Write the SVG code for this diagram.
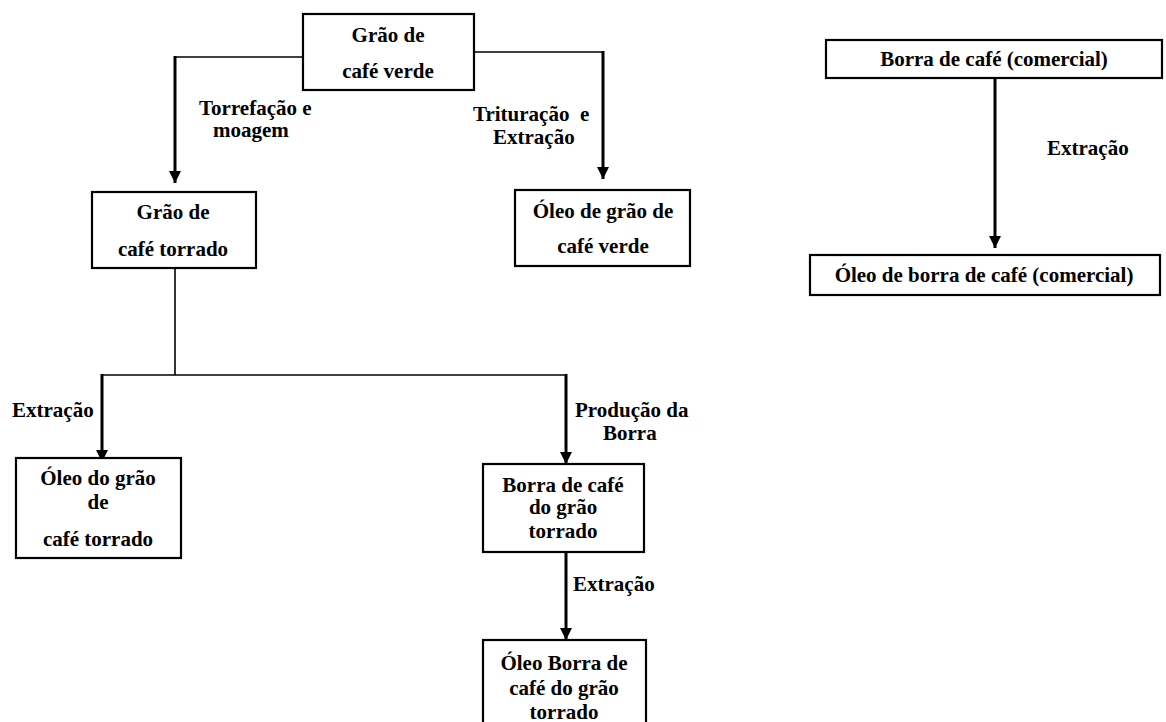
<svg xmlns="http://www.w3.org/2000/svg" width="1166" height="722" viewBox="0 0 1166 722">
<style>
  .box{fill:#fff;stroke:#000;stroke-width:2.2}
  .t{font-family:"Liberation Serif","Times New Roman",serif;font-weight:bold;font-size:21px;fill:#000;text-anchor:middle}
  .l{font-family:"Liberation Serif","Times New Roman",serif;font-weight:bold;font-size:21px;fill:#000}
  .thick{fill:none;stroke:#000;stroke-width:3}
  .thin{fill:none;stroke:#000;stroke-width:1.6}
</style>
<defs>
  <marker id="ah" markerUnits="userSpaceOnUse" markerWidth="12" markerHeight="12" refX="12" refY="6" orient="auto">
    <path d="M0,0 L12,6 L0,12 z" fill="#000"/>
  </marker>
</defs>
<rect width="1166" height="722" fill="#fff"/>
<g id="connectors">
  <polyline class="thin" points="303,57 175,57"/>
  <line class="thick" x1="175" y1="56" x2="175" y2="183" marker-end="url(#ah)"/>
  <polyline class="thin" points="474,52 603,52"/>
  <line class="thick" x1="603" y1="51" x2="603" y2="179" marker-end="url(#ah)"/>
  <line class="thin" x1="175" y1="268" x2="175" y2="375"/>
  <line class="thin" x1="101" y1="375" x2="567" y2="375"/>
  <line class="thick" x1="102" y1="374" x2="102" y2="462" marker-end="url(#ah)"/>
  <line class="thick" x1="566" y1="374" x2="566" y2="464" marker-end="url(#ah)"/>
  <line class="thick" x1="566" y1="552" x2="566" y2="640" marker-end="url(#ah)"/>
  <line class="thick" x1="995" y1="78" x2="995" y2="248" marker-end="url(#ah)"/>
  <text class="l" x="199" y="115">Torrefação e</text>
  <text class="l" x="213" y="137">moagem</text>
  <text class="l" x="473" y="121" xml:space="preserve">Trituração  e</text>
  <text class="l" x="493" y="144">Extração</text>
  <text class="l" x="12" y="417">Extração</text>
  <text class="l" x="575" y="417">Produção da</text>
  <text class="l" x="603" y="440">Borra</text>
  <text class="l" x="573" y="591">Extração</text>
  <text class="l" x="1047" y="155">Extração</text>
</g>
<g id="n-grao-verde">
  <rect class="box" x="303" y="14" width="171" height="76"/>
  <text class="t" x="388" y="42">Grão de</text>
  <text class="t" x="388" y="78">café verde</text>
</g>
<g id="n-grao-torrado">
  <rect class="box" x="92" y="192" width="164" height="76"/>
  <text class="t" x="173" y="219">Grão de</text>
  <text class="t" x="173" y="256">café torrado</text>
</g>
<g id="n-oleo-verde">
  <rect class="box" x="515" y="190" width="175" height="76"/>
  <text class="t" x="603" y="218">Óleo de grão de</text>
  <text class="t" x="603" y="253">café verde</text>
</g>
<g id="n-oleo-torrado">
  <rect class="box" x="16" y="458" width="165" height="100"/>
  <text class="t" x="98" y="485">Óleo do grão</text>
  <text class="t" x="98" y="509">de</text>
  <text class="t" x="98" y="546">café torrado</text>
</g>
<g id="n-borra-torrado">
  <rect class="box" x="483" y="464" width="161" height="88"/>
  <text class="t" x="563" y="492">Borra de café</text>
  <text class="t" x="563" y="514">do grão</text>
  <text class="t" x="563" y="538">torrado</text>
</g>
<g id="n-oleo-borra-torrado">
  <rect class="box" x="483" y="640" width="163" height="90"/>
  <text class="t" x="564" y="670">Óleo Borra de</text>
  <text class="t" x="564" y="695">café do grão</text>
  <text class="t" x="564" y="719">torrado</text>
</g>
<g id="n-borra-comercial">
  <rect class="box" x="826" y="40" width="336" height="38"/>
  <text class="t" x="994" y="66">Borra de café (comercial)</text>
</g>
<g id="n-oleo-borra-comercial">
  <rect class="box" x="810" y="255" width="350" height="40"/>
  <text class="t" x="984" y="282">Óleo de borra de café (comercial)</text>
</g>
</svg>
